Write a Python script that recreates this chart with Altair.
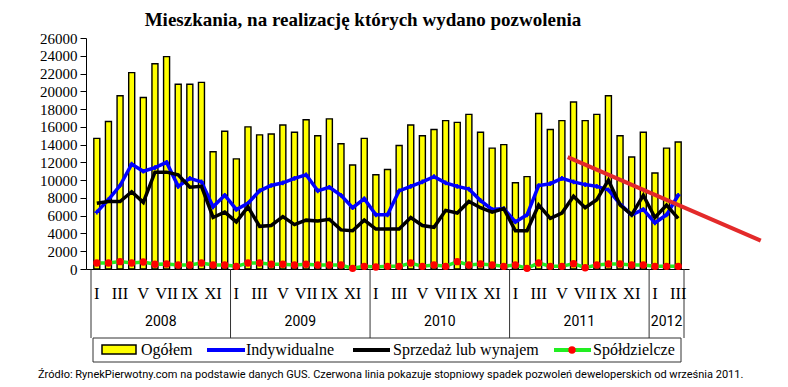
import altair as alt
import pandas as pd

# ---------------- data ----------------
years = ["2008", "2009", "2010", "2011", "2012"]
months_in_year = [12, 12, 12, 12, 3]
roman_odd = ["I", "III", "V", "VII", "IX", "XI"]
y_ticks = [0, 2000, 4000, 6000, 8000, 10000, 12000, 14000, 16000, 18000, 20000, 22000, 24000, 26000]

ogolem = [14700, 16600, 19500, 22100, 19300, 23100, 23900, 20800, 20800, 21000, 13200, 15500,
          12400, 16000, 15100, 15200, 16200, 15400, 16800, 15000, 16900, 14100, 11700, 14700,
          10600, 11200, 13900, 16200, 15000, 15700, 16700, 16500, 17400, 15400, 13600, 14000,
          9700, 10400, 17500, 15700, 16700, 18800, 16700, 17400, 19500, 15000, 12600, 15400,
          10800, 13600, 14300]
indywidualne = [6400, 7800, 9400, 11800, 11000, 11400, 12000, 9300, 10200, 9800, 7000, 8300,
                6700, 7400, 8800, 9400, 9700, 10200, 10600, 8800, 9200, 8300, 6900, 7900,
                6100, 6100, 8800, 9300, 9800, 10400, 9700, 9300, 9000, 7700, 6700, 6800,
                5300, 6100, 9400, 9600, 10200, 9800, 9500, 9300, 8900, 7300, 6100, 6700,
                5200, 6100, 8300]
sprzedaz = [7400, 7600, 7600, 8700, 7500, 10900, 10900, 10600, 9200, 9300, 5800, 6400,
            5300, 7000, 4800, 4900, 5900, 5000, 5500, 5400, 5600, 4400, 4300, 5500,
            4500, 4500, 4500, 5800, 4900, 4700, 6600, 6300, 7600, 6900, 6400, 6800,
            4300, 4300, 7200, 5700, 6300, 8200, 6900, 7800, 10000, 7200, 6100, 8300,
            5800, 7200, 5700]
spoldzielcze = [680, 680, 830, 680, 790, 530, 565, 450, 450, 680, 450, 450,
                300, 680, 680, 530, 530, 450, 530, 450, 450, 450, 75, 300,
                225, 300, 300, 680, 300, 450, 300, 830, 450, 565, 450, 300,
                450, 75, 680, 300, 300, 600, 150, 450, 565, 565, 450, 450,
                300, 300, 300]
# red trend line (month index units, value)
trend_month = [41.0, 57.6]
trend_value = [12600, 3200]

title_text = "Mieszkania, na realizację których wydano pozwolenia"
caption_text = ("Źródło: RynekPierwotny.com na podstawie danych GUS. Czerwona linia pokazuje "
                "stopniowy spadek pozwoleń deweloperskich od września 2011.")
legend_names = ["Ogółem", "Indywidualne", "Sprzedaż lub wynajem", "Spółdzielcze"]

# ---------------- tables ----------------
n = len(ogolem)
df = pd.DataFrame({
    "pos": [i + 0.5 for i in range(n)],
    "ogolem": ogolem,
    "indyw": indywidualne,
    "sprzed": sprzedaz,
    "spold": spoldzielcze,
})

mrows, yrows, bounds = [], [], [0]
start = 0
for y, cnt in zip(years, months_in_year):
    for m in range(1, cnt + 1, 2):
        mrows.append({"pos": start + m - 0.5, "lab": roman_odd[(m - 1) // 2]})
    yrows.append({"pos": start + cnt / 2, "lab": y})
    start += cnt
    bounds.append(start)
mdf = pd.DataFrame(mrows)
ydf = pd.DataFrame(yrows)
bdf = pd.DataFrame({"b": bounds})
tdf = pd.DataFrame({"pos": trend_month, "v": trend_value})
one = pd.DataFrame({"a": [0]})

W, H = 603, 231
SERIF = "Liberation Serif"
SANS = "Roboto"
xs = alt.Scale(domain=[0, n], nice=False, zero=False)
ys = alt.Scale(domain=[0, 26000], nice=False)
xax = alt.Axis(labels=False, ticks=False, grid=False, title=None, domainColor="black", domainWidth=1)
yax = alt.Axis(values=y_ticks, format="d", grid=False, title=None, labelFont=SERIF,
               labelFontSize=15, labelColor="black", labelOverlap=False, labelFlush=False,
               labelBound=False, tickColor="black", tickSize=6, labelPadding=3,
               domainColor="black")
X = alt.X("pos:Q", scale=xs, axis=xax)


def Y(field):
    return alt.Y(field, type="quantitative", scale=ys, axis=yax)


bars = alt.Chart(df).mark_bar(size=6, color="#FFFF00", stroke="black", strokeWidth=1.4).encode(
    x=X, y=Y("ogolem"))
blue = alt.Chart(df).mark_line(color="#0000FF", strokeWidth=3.5).encode(x=X, y=Y("indyw"))
blue_pts = alt.Chart(df).mark_point(shape="cross", filled=True, size=22, color="#0000FF", opacity=1).encode(
    x=X, y=Y("indyw"))
black = alt.Chart(df).mark_line(color="black", strokeWidth=3.5).encode(x=X, y=Y("sprzed"))
green = alt.Chart(df).mark_line(color="#22EE22", strokeWidth=3.5).encode(x=X, y=Y("spold"))
reddots = alt.Chart(df).mark_circle(color="#FF0000", size=55, opacity=1).encode(x=X, y=Y("spold"))
trend = alt.Chart(tdf).mark_line(color="#E32A2A", strokeWidth=4).encode(x=X, y=Y("v"))

seps = alt.Chart(bdf).mark_rule(color="#333333", strokeWidth=1).encode(
    x=alt.X("b:Q", scale=xs, axis=xax), y=alt.value(H), y2=alt.value(300))
mlabels = alt.Chart(mdf).mark_text(font=SERIF, fontSize=16.5, color="black", baseline="middle").encode(
    x=X, y=alt.value(256), text="lab:N")
ylabels = alt.Chart(ydf).mark_text(font=SANS, fontSize=14, color="black", baseline="middle").encode(
    x=X, y=alt.value(284), text="lab:N")

title = alt.Chart(one).mark_text(font=SERIF, fontSize=19, fontWeight="bold", color="black",
                                 baseline="middle", align="center").encode(
    x=alt.value(277), y=alt.value(-18), text=alt.value(title_text))
caption = alt.Chart(one).mark_text(font=SANS, fontSize=11, color="black",
                                   baseline="middle", align="left").encode(
    x=alt.value(-48), y=alt.value(337), text=alt.value(caption_text))

legbox = alt.Chart(one).mark_rect(fill="white", stroke="#333333", strokeWidth=1).encode(
    x=alt.value(7), x2=alt.value(595), y=alt.value(300), y2=alt.value(324))
leg_rect = alt.Chart(one).mark_rect(fill="#FFFF00", stroke="black", strokeWidth=1.5).encode(
    x=alt.value(16), x2=alt.value(50), y=alt.value(307), y2=alt.value(316))
leg_blue = alt.Chart(one).mark_rule(color="#0000FF", strokeWidth=4).encode(
    x=alt.value(121), x2=alt.value(159), y=alt.value(312))
leg_black = alt.Chart(one).mark_rule(color="black", strokeWidth=4).encode(
    x=alt.value(267), x2=alt.value(304), y=alt.value(312))
leg_green = alt.Chart(one).mark_rule(color="#22EE22", strokeWidth=4).encode(
    x=alt.value(468), x2=alt.value(505), y=alt.value(312))
leg_red = alt.Chart(one).mark_circle(color="#FF0000", size=55, opacity=1).encode(
    x=alt.value(486), y=alt.value(312))
leg_texts = []
for name, xpos in zip(legend_names, [55, 160, 307, 507]):
    leg_texts.append(alt.Chart(one).mark_text(font=SERIF, fontSize=16, color="black",
                                              baseline="middle", align="left").encode(
        x=alt.value(xpos), y=alt.value(312), text=alt.value(name)))

chart = alt.layer(
    bars, blue, blue_pts, black, green, reddots, trend,
    seps, mlabels, ylabels, title, caption,
    legbox, leg_rect, leg_blue, leg_black, leg_green, leg_red, *leg_texts,
).properties(
    width=W, height=H,
    autosize=alt.AutoSizeParams(type="none"),
    padding={"left": 78, "top": 30, "right": 90, "bottom": 112},
    background="white",
).configure_view(stroke=None)

chart.save("out.html", embed_options={"renderer": "svg", "actions": False})
